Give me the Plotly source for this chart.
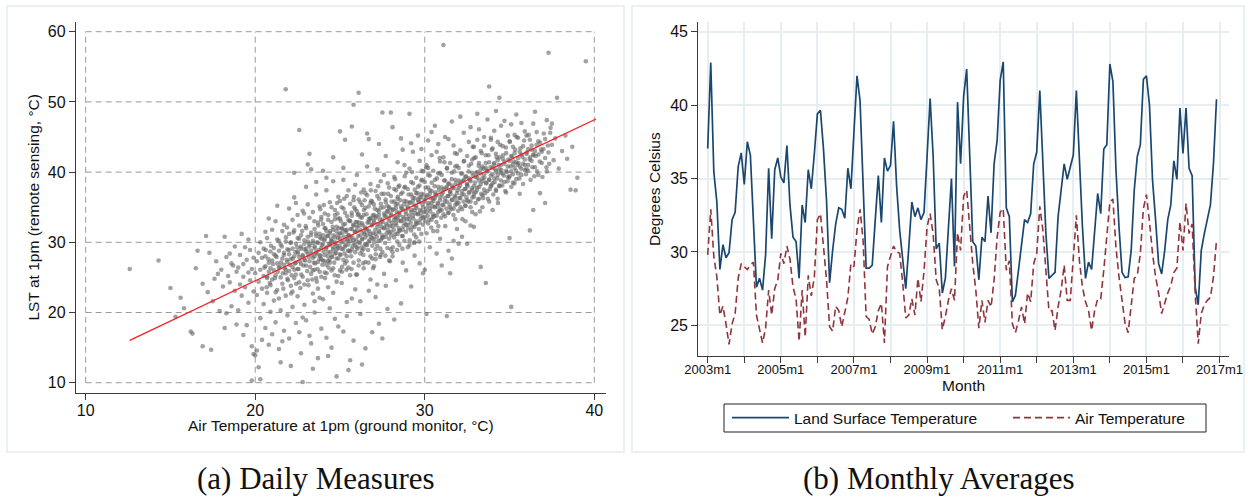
import plotly.graph_objects as go

W, H = 1248, 502

# ---------------- Panel (a): daily measures (air temp, LST) ----------------
pts_12_20 = [
    (12.6, 26.2), (14.3, 27.4), (15.0, 23.5), (15.3, 19.4), (15.6, 22.1), (15.8, 20.6), (16.2, 17.3), (16.3, 17.0),
    (16.5, 26.3), (16.6, 28.8), (16.9, 15.2), (16.9, 24.1),
    (17.1, 30.9), (17.3, 28.5), (17.4, 14.7), (17.5, 21.6), (17.6, 24.8), (17.8, 25.5), (17.9, 20.2), (17.7, 27.3), (17.2, 22.9),
    (18.0, 26.1), (18.1, 23.7), (18.2, 30.8), (18.3, 27.9), (18.4, 25.2), (18.5, 24.3), (18.5, 28.4), (18.6, 20.9),
    (18.7, 26.7), (18.8, 23.1), (18.8, 29.4), (18.9, 18.3), (18.9, 25.8), (18.3, 19.9), (18.6, 27.0), (18.2, 17.8),
    (19.0, 26.4), (19.1, 24.0), (19.1, 28.2), (19.2, 22.4), (19.3, 26.9), (19.3, 25.1), (19.4, 29.3), (19.4, 23.6),
    (19.5, 27.5), (19.5, 18.2), (19.6, 25.7), (19.6, 21.4), (19.7, 28.9), (19.7, 24.6), (19.8, 15.2), (19.8, 26.2),
    (19.9, 27.8), (19.9, 23.0), (19.9, 14.1), (19.3, 16.8), (19.6, 30.4), (19.0, 20.3), (19.8, 10.3), (19.2, 31.2),
]
pts_20_24 = [
    (20.0, 25.6), (20.0, 13.9), (20.1, 27.3), (20.1, 22.5), (20.1, 14.6), (20.2, 28.5), (20.2, 24.4), (20.2, 12.2),
    (20.3, 26.1), (20.3, 30.0), (20.3, 19.2), (20.4, 27.8), (20.4, 23.4), (20.4, 16.1), (20.5, 25.2), (20.5, 29.1),
    (20.5, 21.2), (20.6, 26.6), (20.6, 28.0), (20.6, 17.8), (20.7, 24.9), (20.7, 30.6), (20.7, 22.8), (20.8, 27.1),
    (20.8, 25.8), (20.8, 15.4), (20.9, 28.7), (20.9, 23.9), (20.9, 26.3), (20.9, 20.1), (20.6, 31.5), (20.3, 10.5), (20.8, 33.4),
    (21.0, 27.4), (21.0, 24.7), (21.0, 16.9), (21.1, 29.2), (21.1, 26.0), (21.1, 21.7), (21.2, 28.1), (21.2, 25.3),
    (21.2, 18.6), (21.3, 27.0), (21.3, 30.4), (21.3, 23.2), (21.4, 28.8), (21.4, 26.4), (21.4, 14.8), (21.5, 25.0),
    (21.5, 29.7), (21.5, 20.3), (21.6, 27.7), (21.6, 24.1), (21.6, 31.6), (21.7, 26.8), (21.7, 28.5), (21.7, 17.4),
    (21.8, 25.6), (21.8, 30.1), (21.8, 51.8), (21.8, 22.4), (21.9, 27.2), (21.9, 29.0), (21.9, 24.8), (21.9, 19.6),
    (21.2, 33.0), (21.5, 12.9), (21.7, 32.5), (21.3, 35.2), (21.6, 15.9), (21.0, 31.8), (21.4, 22.0), (21.8, 26.1),
    (22.0, 28.3), (22.0, 25.9), (22.0, 31.2), (22.0, 16.3), (22.1, 27.6), (22.1, 30.0), (22.1, 23.8), (22.1, 12.4),
    (22.2, 29.1), (22.2, 26.5), (22.2, 20.8), (22.2, 33.2), (22.3, 28.0), (22.3, 24.9), (22.3, 39.9), (22.3, 31.7),
    (22.4, 27.1), (22.4, 29.8), (22.4, 18.5), (22.4, 25.4), (22.5, 28.7), (22.5, 30.6), (22.5, 22.3), (22.5, 26.2),
    (22.6, 27.9), (22.6, 46.0), (22.6, 32.4), (22.6, 24.3), (22.7, 29.4), (22.7, 26.9), (22.7, 14.2), (22.7, 31.0),
    (22.8, 28.2), (22.8, 10.1), (22.8, 25.1), (22.8, 34.5), (22.9, 27.5), (22.9, 30.3), (22.9, 21.1), (22.9, 29.0),
    (22.3, 36.4), (22.6, 17.2), (22.0, 34.8), (22.4, 35.6), (22.8, 19.3), (22.2, 23.0), (22.5, 33.9), (22.9, 24.0),
    (23.0, 29.1), (23.0, 26.7), (23.0, 32.0), (23.0, 18.9), (23.1, 28.4), (23.1, 30.8), (23.1, 41.1), (23.1, 24.6),
    (23.2, 29.7), (23.2, 42.6), (23.2, 27.3), (23.2, 33.5), (23.3, 28.8), (23.3, 25.5), (23.3, 31.4), (23.3, 15.6),
    (23.4, 30.2), (23.4, 27.8), (23.4, 22.7), (23.4, 34.3), (23.5, 29.4), (23.5, 26.1), (23.5, 31.9), (23.5, 20.0),
    (23.6, 28.6), (23.6, 30.9), (23.6, 24.9), (23.6, 36.8), (23.7, 29.9), (23.7, 27.2), (23.7, 32.8), (23.7, 13.5),
    (23.8, 28.1), (23.8, 31.2), (23.8, 25.8), (23.8, 35.1), (23.9, 30.5), (23.9, 27.6), (23.9, 29.2), (23.9, 17.7),
    (23.0, 37.9), (23.3, 40.4), (23.5, 21.6), (23.7, 23.4), (23.9, 33.6), (23.2, 16.7), (23.6, 38.6), (23.4, 12.0),
    (23.8, 22.1), (23.1, 35.4), (23.5, 28.0), (23.9, 25.1),
]
pts_24_28 = [
    (24.0, 29.8), (24.0, 27.4), (24.0, 32.6), (24.0, 21.9), (24.1, 30.5), (24.1, 28.2), (24.1, 34.1), (24.1, 25.7),
    (24.2, 29.3), (24.2, 31.6), (24.2, 26.8), (24.2, 16.4), (24.3, 30.9), (24.3, 28.6), (24.3, 33.2), (24.3, 23.6),
    (24.4, 29.6), (24.4, 27.1), (24.4, 35.7), (24.4, 31.3), (24.5, 30.2), (24.5, 28.0), (24.5, 15.0), (24.5, 32.9),
    (24.6, 29.0), (24.6, 31.8), (24.6, 26.3), (24.6, 38.7), (24.7, 30.7), (24.7, 28.4), (24.7, 34.6), (24.7, 19.1),
    (24.8, 29.5), (24.8, 32.2), (24.8, 10.9), (24.8, 27.7), (24.9, 31.1), (24.9, 29.2), (24.9, 25.2), (24.9, 36.5),
    (24.0, 40.2), (24.2, 37.4), (24.4, 20.6), (24.6, 22.8), (24.8, 24.4), (24.3, 13.8), (24.5, 26.0), (24.7, 33.9),
    (24.9, 18.0), (24.1, 32.0), (24.3, 27.3), (24.5, 35.0), (24.7, 30.0), (24.9, 33.4), (24.6, 42.1), (24.2, 39.2),
    (25.0, 30.6), (25.0, 28.3), (25.0, 33.4), (25.0, 45.8), (25.1, 31.3), (25.1, 29.1), (25.1, 35.0), (25.1, 24.2),
    (25.2, 30.1), (25.2, 32.5), (25.2, 27.5), (25.2, 17.3), (25.3, 31.7), (25.3, 29.4), (25.3, 44.6), (25.3, 34.2),
    (25.4, 30.4), (25.4, 28.0), (25.4, 36.6), (25.4, 21.5), (25.5, 31.0), (25.5, 33.1), (25.5, 26.4), (25.5, 29.7),
    (25.6, 30.8), (25.6, 28.7), (25.6, 13.2), (25.6, 35.5), (25.7, 31.9), (25.7, 46.5), (25.7, 29.0), (25.7, 33.8),
    (25.8, 30.3), (25.8, 49.6), (25.8, 27.1), (25.8, 32.4), (25.9, 31.5), (25.9, 29.6), (25.9, 38.2), (25.9, 23.3),
    (25.0, 26.0), (25.2, 38.9), (25.4, 19.5), (25.6, 25.3), (25.8, 16.0), (25.1, 32.0), (25.3, 27.0), (25.5, 37.4),
    (25.7, 22.0), (25.9, 34.7), (25.4, 31.8), (25.6, 33.0), (25.0, 35.9), (25.2, 40.6), (25.8, 36.0), (25.5, 11.8),
    (26.0, 31.6), (26.0, 29.3), (26.0, 34.4), (26.0, 25.4), (26.1, 51.3), (26.1, 32.3), (26.1, 30.0), (26.1, 36.1),
    (26.2, 31.0), (26.2, 33.6), (26.2, 28.4), (26.2, 19.8), (26.3, 32.7), (26.3, 30.4), (26.3, 35.3), (26.3, 12.6),
    (26.4, 31.4), (26.4, 29.1), (26.4, 37.5), (26.4, 33.9), (26.5, 32.1), (26.5, 30.7), (26.5, 27.2), (26.5, 34.9),
    (26.6, 45.5), (26.6, 31.8), (26.6, 29.6), (26.6, 36.7), (26.7, 44.7), (26.7, 32.9), (26.7, 30.1), (26.7, 23.1),
    (26.8, 31.2), (26.8, 33.4), (26.8, 28.0), (26.8, 38.3), (26.9, 32.5), (26.9, 30.6), (26.9, 35.8), (26.9, 17.2),
    (26.0, 39.6), (26.2, 21.6), (26.4, 26.3), (26.6, 40.8), (26.8, 24.7), (26.1, 34.0), (26.3, 28.8), (26.5, 37.0),
    (26.7, 33.3), (26.9, 27.7), (26.3, 42.5), (26.5, 14.9), (26.0, 32.9), (26.8, 35.6),
    (27.0, 32.8), (27.0, 30.5), (27.0, 35.4), (27.0, 26.6), (27.1, 33.5), (27.1, 31.2), (27.1, 37.3), (27.1, 22.2),
    (27.2, 32.2), (27.2, 34.6), (27.2, 29.5), (27.2, 40.4), (27.3, 33.9), (27.3, 31.6), (27.3, 36.2), (27.3, 18.4),
    (27.4, 32.6), (27.4, 30.3), (27.4, 38.7), (27.4, 34.9), (27.5, 48.5), (27.5, 33.2), (27.5, 31.0), (27.5, 28.6),
    (27.6, 34.1), (27.6, 32.0), (27.6, 36.9), (27.6, 25.5), (27.7, 33.7), (27.7, 30.8), (27.7, 35.7), (27.7, 42.3),
    (27.8, 32.4), (27.8, 34.4), (27.8, 29.2), (27.8, 20.5), (27.9, 33.0), (27.9, 31.4), (27.9, 37.8), (27.9, 27.4),
    (27.2, 24.0), (27.4, 28.2), (27.6, 39.6), (27.8, 35.2), (27.0, 33.9), (27.3, 44.0), (27.5, 16.3), (27.7, 23.8),
    (27.9, 35.0), (27.1, 29.0),
]
pts_28_32 = [
    (28.0, 48.5), (28.0, 33.8), (28.0, 31.5), (28.0, 36.6), (28.1, 46.4), (28.1, 34.6), (28.1, 32.3), (28.1, 28.0),
    (28.2, 33.2), (28.2, 35.8), (28.2, 30.7), (28.2, 39.3), (28.3, 34.9), (28.3, 32.7), (28.3, 37.4), (28.3, 24.6),
    (28.4, 33.6), (28.4, 31.2), (28.4, 41.4), (28.4, 35.5), (28.5, 34.2), (28.5, 32.0), (28.5, 29.6), (28.5, 38.1),
    (28.6, 35.1), (28.6, 33.0), (28.6, 21.3), (28.6, 36.9), (28.7, 34.7), (28.7, 31.8), (28.7, 43.2), (28.7, 27.1),
    (28.8, 33.4), (28.8, 35.9), (28.8, 30.2), (28.8, 37.8), (28.9, 34.0), (28.9, 32.5), (28.9, 39.9), (28.9, 26.0),
    (28.2, 19.0), (28.6, 44.8), (28.0, 29.0), (28.4, 36.2), (28.8, 41.0), (28.3, 33.4), (28.7, 30.9),
    (29.0, 34.8), (29.0, 32.5), (29.0, 37.6), (29.0, 29.3), (29.1, 48.3), (29.1, 35.6), (29.1, 33.3), (29.1, 40.5),
    (29.2, 34.3), (29.2, 36.8), (29.2, 31.7), (29.2, 23.7), (29.3, 35.9), (29.3, 33.8), (29.3, 38.4), (29.3, 42.9),
    (29.4, 34.6), (29.4, 32.2), (29.4, 36.3), (29.4, 28.1), (29.5, 35.2), (29.5, 33.0), (29.5, 39.2), (29.5, 30.7),
    (29.6, 36.1), (29.6, 34.0), (29.6, 37.9), (29.6, 45.2), (29.7, 35.7), (29.7, 32.8), (29.7, 41.6), (29.7, 27.0),
    (29.8, 34.4), (29.8, 36.9), (29.8, 31.2), (29.8, 38.8), (29.9, 35.0), (29.9, 33.5), (29.9, 40.1), (29.9, 25.6),
    (29.2, 44.1), (29.5, 37.0), (29.8, 43.3), (29.4, 30.0), (29.7, 36.4),
    (30.0, 35.8), (30.0, 33.6), (30.0, 38.6), (30.0, 26.1), (30.1, 36.5), (30.1, 34.3), (30.1, 41.0), (30.1, 19.8),
    (30.2, 35.3), (30.2, 37.8), (30.2, 32.7), (30.2, 44.5), (30.3, 36.9), (30.3, 34.8), (30.3, 39.5), (30.3, 29.3),
    (30.4, 35.6), (30.4, 33.2), (30.4, 37.3), (30.4, 42.4), (30.5, 36.2), (30.5, 34.0), (30.5, 40.2), (30.5, 31.6),
    (30.6, 37.1), (30.6, 35.0), (30.6, 38.9), (30.6, 46.6), (30.7, 36.7), (30.7, 33.8), (30.7, 42.9), (30.7, 28.4),
    (30.8, 35.4), (30.8, 37.9), (30.8, 32.3), (30.8, 39.8), (30.9, 36.0), (30.9, 34.5), (30.9, 41.5), (30.9, 30.5),
    (30.4, 45.7), (30.8, 44.0), (30.2, 40.6), (30.6, 36.3),
    (31.0, 36.8), (31.0, 34.6), (31.0, 39.6), (31.0, 26.7), (31.1, 58.1), (31.1, 37.5), (31.1, 35.3), (31.1, 42.1),
    (31.2, 36.3), (31.2, 38.8), (31.2, 33.7), (31.2, 45.0), (31.3, 37.9), (31.3, 35.8), (31.3, 40.5), (31.3, 19.5),
    (31.4, 36.6), (31.4, 34.2), (31.4, 38.3), (31.4, 28.8), (31.5, 37.2), (31.5, 35.0), (31.5, 41.3), (31.5, 25.6),
    (31.6, 38.1), (31.6, 36.0), (31.6, 39.9), (31.6, 47.2), (31.7, 37.7), (31.7, 34.8), (31.7, 43.8), (31.7, 30.2),
    (31.8, 36.4), (31.8, 38.9), (31.8, 33.3), (31.8, 40.8), (31.9, 37.0), (31.9, 35.5), (31.9, 42.6), (31.9, 31.9),
    (31.4, 44.7), (31.6, 27.7),
]
pts_32_40 = [
    (32.0, 37.8), (32.0, 35.6), (32.0, 40.6), (32.0, 29.8), (32.1, 38.5), (32.1, 36.3), (32.1, 43.1), (32.1, 47.9),
    (32.2, 37.3), (32.2, 39.8), (32.2, 34.7), (32.2, 30.8), (32.3, 38.9), (32.3, 36.8), (32.3, 41.5), (32.3, 45.6),
    (32.4, 37.6), (32.4, 35.2), (32.4, 39.3), (32.4, 33.0), (32.5, 38.2), (32.5, 36.0), (32.5, 42.3), (32.5, 29.8),
    (32.6, 39.1), (32.6, 37.0), (32.6, 40.9), (32.6, 44.3), (32.7, 38.7), (32.7, 35.8), (32.7, 46.4), (32.7, 32.4),
    (32.8, 37.4), (32.8, 39.9), (32.8, 34.3), (32.8, 41.8), (32.9, 38.0), (32.9, 36.5), (32.9, 43.6), (32.9, 32.2),
    (33.0, 39.3), (33.0, 37.1), (33.0, 42.1), (33.0, 34.0), (33.1, 40.0), (33.1, 37.8), (33.1, 44.6), (33.1, 48.3),
    (33.2, 38.8), (33.2, 41.3), (33.2, 36.2), (33.2, 46.1), (33.3, 40.4), (33.3, 38.3), (33.3, 43.0), (33.3, 26.5),
    (33.4, 39.1), (33.4, 36.7), (33.4, 40.8), (33.4, 35.0), (33.5, 39.7), (33.5, 37.5), (33.5, 43.8), (33.5, 45.0),
    (33.6, 40.6), (33.6, 38.5), (33.6, 42.4), (33.6, 24.2), (33.7, 40.2), (33.7, 37.3), (33.7, 47.5), (33.8, 52.2),
    (33.8, 38.9), (33.8, 41.4), (33.8, 35.8), (33.9, 39.5), (33.9, 38.0), (33.9, 44.9),
    (34.0, 40.6), (34.0, 38.4), (34.0, 43.4), (34.0, 34.6), (34.1, 41.3), (34.1, 39.1), (34.1, 45.9), (34.2, 40.1),
    (34.2, 42.6), (34.2, 37.5), (34.2, 48.7), (34.3, 41.7), (34.3, 39.6), (34.3, 44.3), (34.4, 50.6), (34.4, 40.4),
    (34.4, 38.0), (34.4, 42.1), (34.5, 41.0), (34.5, 38.8), (34.5, 46.6), (34.6, 41.9), (34.6, 39.8), (34.6, 43.7),
    (34.7, 41.5), (34.7, 38.6), (34.7, 47.3), (34.8, 40.2), (34.8, 42.7), (34.8, 37.1), (34.9, 40.8), (34.9, 39.3),
    (34.9, 45.2), (34.3, 36.2),
    (35.0, 41.6), (35.0, 39.4), (35.0, 44.4), (35.0, 30.6), (35.1, 42.3), (35.1, 40.1), (35.1, 20.8), (35.1, 46.8),
    (35.2, 41.1), (35.2, 43.6), (35.2, 38.5), (35.3, 42.7), (35.3, 40.6), (35.3, 45.3), (35.4, 41.4), (35.4, 39.0),
    (35.4, 48.2), (35.5, 42.0), (35.5, 39.8), (35.5, 44.9), (35.6, 42.9), (35.6, 40.8), (35.6, 36.9), (35.7, 42.5),
    (35.7, 39.6), (35.7, 47.0), (35.8, 41.2), (35.8, 43.7), (35.9, 41.8), (35.9, 40.3), (35.9, 45.8),
    (36.0, 42.6), (36.0, 40.4), (36.0, 45.2), (36.1, 43.3), (36.1, 41.0), (36.2, 42.1), (36.2, 44.6), (36.2, 31.7),
    (36.3, 43.8), (36.3, 41.6), (36.4, 42.4), (36.4, 34.6), (36.4, 46.9), (36.5, 43.0), (36.5, 40.7), (36.6, 43.9),
    (36.6, 45.7), (36.7, 42.5), (36.7, 39.6), (36.8, 37.0), (36.8, 44.2), (36.9, 42.9), (36.9, 41.3), (36.5, 48.6),
    (37.0, 43.3), (37.1, 35.6), (37.1, 44.7), (37.2, 40.1), (37.3, 57.0), (37.3, 42.8), (37.4, 45.6), (37.5, 43.9),
    (37.6, 41.7), (37.7, 44.8), (37.8, 50.6), (37.9, 40.5), (37.5, 46.9), (37.2, 47.4),
    (38.1, 43.0), (38.3, 45.2), (38.6, 37.5), (38.7, 43.6), (38.9, 37.4), (39.0, 39.2), (38.4, 41.9), (39.5, 55.8),
]
# extra points of the dense central band
pts_core_a = [
    (20.55, 26.4), (20.62, 28.9), (20.71, 25.1), (20.78, 27.6), (20.86, 24.2), (20.93, 29.5), (21.04, 26.9), (21.11, 28.3),
    (21.17, 24.9), (21.26, 27.9), (21.33, 25.8), (21.39, 30.2), (21.45, 26.5), (20.67, 23.6), (21.21, 22.9),
    (21.52, 27.1), (21.57, 29.4), (21.63, 25.6), (21.69, 28.2), (21.74, 26.3), (21.81, 30.7), (21.86, 27.5), (21.93, 24.6),
    (21.98, 28.9), (22.04, 26.8), (22.09, 29.9), (22.15, 25.3), (22.21, 27.7), (22.26, 31.4), (22.31, 26.1), (22.37, 28.6),
    (22.42, 24.1), (22.47, 29.3), (21.66, 23.4), (22.12, 22.7), (21.88, 32.1), (22.34, 27.0),
    (22.52, 28.4), (22.55, 26.2), (22.59, 30.5), (22.63, 27.3), (22.68, 29.1), (22.72, 25.4), (22.77, 31.6), (22.81, 28.0),
    (22.85, 26.7), (22.90, 29.8), (22.94, 27.4), (22.98, 32.3), (23.03, 28.7), (23.07, 25.9), (23.11, 30.1), (23.16, 27.9),
    (23.20, 29.4), (23.24, 26.5), (23.29, 31.0), (23.33, 28.3), (23.37, 24.7), (23.42, 29.9), (23.46, 27.1), (23.49, 33.0),
    (22.66, 23.5), (23.14, 23.9), (22.88, 34.1), (23.39, 26.0),
    (23.51, 29.2), (23.54, 27.0), (23.58, 31.3), (23.61, 28.4), (23.65, 30.0), (23.68, 26.2), (23.72, 32.4), (23.75, 28.9),
    (23.79, 27.6), (23.82, 30.7), (23.86, 28.1), (23.89, 33.2), (23.93, 29.6), (23.96, 26.8), (24.00, 31.0), (24.03, 28.7),
    (24.07, 30.3), (24.10, 27.3), (24.14, 32.0), (24.17, 29.1), (24.21, 25.6), (24.24, 30.9), (24.28, 28.0), (24.31, 33.9),
    (24.35, 29.8), (24.38, 27.5), (24.42, 31.6), (24.45, 28.6), (24.48, 30.5), (23.63, 24.4), (24.12, 24.9), (23.84, 34.7),
    (24.33, 26.4), (24.05, 35.3),
    (24.51, 30.1), (24.54, 27.9), (24.57, 32.2), (24.60, 29.3), (24.63, 31.0), (24.66, 27.1), (24.70, 33.3), (24.73, 29.8),
    (24.76, 28.5), (24.79, 31.6), (24.82, 29.0), (24.85, 34.1), (24.88, 30.6), (24.91, 27.7), (24.94, 32.0), (24.97, 29.5),
    (25.00, 31.3), (25.03, 28.2), (25.06, 33.0), (25.09, 30.0), (25.12, 26.5), (25.15, 31.9), (25.18, 29.0), (25.21, 34.8),
    (25.24, 30.8), (25.27, 28.4), (25.30, 32.6), (25.33, 29.6), (25.36, 31.5), (25.39, 27.3), (25.42, 33.7), (25.45, 30.3),
    (25.48, 28.8), (24.69, 25.3), (25.11, 25.8), (24.83, 35.6), (25.25, 36.2), (25.38, 26.1),
]
pts_core_b = [
    (25.51, 31.0), (25.54, 28.8), (25.57, 33.1), (25.60, 30.2), (25.63, 31.9), (25.66, 28.0), (25.69, 34.2), (25.72, 30.7),
    (25.75, 29.4), (25.78, 32.5), (25.81, 29.9), (25.84, 35.0), (25.87, 31.5), (25.90, 28.6), (25.93, 32.9), (25.96, 30.4),
    (25.99, 32.2), (26.02, 29.1), (26.05, 33.9), (26.08, 30.9), (26.11, 27.4), (26.14, 32.8), (26.17, 29.9), (26.20, 35.7),
    (26.23, 31.7), (26.26, 29.3), (26.29, 33.5), (26.32, 30.5), (26.35, 32.4), (26.38, 28.2), (26.41, 34.6), (26.44, 31.2),
    (26.47, 29.7), (25.68, 26.2), (26.10, 26.7), (25.82, 36.5), (26.25, 37.1), (26.37, 27.0), (25.95, 25.4), (26.45, 36.0),
    (26.51, 31.9), (26.54, 29.7), (26.57, 34.0), (26.60, 31.1), (26.63, 32.8), (26.66, 28.9), (26.69, 35.1), (26.72, 31.6),
    (26.75, 30.3), (26.78, 33.4), (26.81, 30.8), (26.84, 35.9), (26.87, 32.4), (26.90, 29.5), (26.93, 33.8), (26.96, 31.3),
    (26.99, 33.1), (27.02, 30.0), (27.05, 34.8), (27.08, 31.8), (27.11, 28.3), (27.14, 33.7), (27.17, 30.8), (27.20, 36.6),
    (27.23, 32.6), (27.26, 30.2), (27.29, 34.4), (27.32, 31.4), (27.35, 33.3), (27.38, 29.1), (27.41, 35.5), (27.44, 32.1),
    (27.47, 30.6), (26.68, 27.1), (27.10, 27.6), (26.82, 37.4), (27.25, 38.0), (27.37, 27.9), (26.95, 26.3), (27.45, 36.9),
    (27.51, 32.9), (27.54, 30.7), (27.57, 35.0), (27.60, 32.1), (27.63, 33.8), (27.66, 29.9), (27.69, 36.1), (27.72, 32.6),
    (27.75, 31.3), (27.78, 34.4), (27.81, 31.8), (27.84, 36.9), (27.87, 33.4), (27.90, 30.5), (27.93, 34.8), (27.96, 32.3),
    (27.99, 34.1), (28.02, 31.0), (28.05, 35.8), (28.08, 32.8), (28.11, 29.3), (28.14, 34.7), (28.17, 31.8), (28.20, 37.6),
    (28.23, 33.6), (28.26, 31.2), (28.29, 35.4), (28.32, 32.4), (28.35, 34.3), (28.38, 30.1), (28.41, 36.5), (28.44, 33.1),
    (28.47, 31.6), (27.68, 28.1), (28.10, 28.6), (27.82, 38.4), (28.25, 39.0), (28.37, 28.9), (27.95, 27.3), (28.45, 37.9),
    (28.51, 33.9), (28.54, 31.7), (28.57, 36.0), (28.60, 33.1), (28.63, 34.8), (28.66, 30.9), (28.69, 37.1), (28.72, 33.6),
    (28.75, 32.3), (28.78, 35.4), (28.81, 32.8), (28.84, 37.9), (28.87, 34.4), (28.90, 31.5), (28.93, 35.8), (28.96, 33.3),
    (28.99, 35.1), (29.02, 32.0), (29.05, 36.8), (29.08, 33.8), (29.11, 30.3), (29.14, 35.7), (29.17, 32.8), (29.20, 38.6),
    (29.23, 34.6), (29.26, 32.2), (29.29, 36.4), (29.32, 33.4), (29.35, 35.3), (29.38, 31.1), (29.41, 37.5), (29.44, 34.1),
    (29.47, 32.6), (28.68, 29.1), (29.10, 29.6), (28.82, 39.4), (29.25, 40.0), (29.37, 29.9),
]
pts_core_c = [
    (29.51, 34.9), (29.54, 32.7), (29.57, 37.0), (29.60, 34.1), (29.63, 35.8), (29.66, 31.9), (29.69, 38.1), (29.72, 34.6),
    (29.75, 33.3), (29.78, 36.4), (29.81, 33.8), (29.84, 38.9), (29.87, 35.4), (29.90, 32.5), (29.93, 36.8), (29.96, 34.3),
    (29.99, 36.1), (30.02, 33.0), (30.05, 37.8), (30.08, 34.8), (30.11, 31.3), (30.14, 36.7), (30.17, 33.8), (30.20, 39.6),
    (30.23, 35.6), (30.26, 33.2), (30.29, 37.4), (30.32, 34.4), (30.35, 36.3), (30.38, 32.1), (30.41, 38.5), (30.44, 35.1),
    (30.47, 33.6), (29.68, 30.1), (30.10, 40.7), (29.82, 40.2),
    (30.51, 35.9), (30.55, 33.7), (30.58, 38.0), (30.62, 35.1), (30.65, 36.8), (30.69, 32.9), (30.72, 39.1), (30.76, 35.6),
    (30.79, 34.3), (30.83, 37.4), (30.86, 34.8), (30.90, 39.9), (30.93, 36.4), (30.97, 33.5), (31.00, 37.8), (31.04, 35.3),
    (31.07, 37.1), (31.11, 34.0), (31.14, 38.8), (31.18, 35.8), (31.21, 32.3), (31.25, 37.7), (31.28, 34.8), (31.32, 40.6),
    (31.35, 36.6), (31.39, 34.2), (31.42, 38.4), (31.46, 35.4), (31.49, 37.3), (30.74, 31.6), (31.16, 41.4), (30.88, 42.0),
    (31.52, 36.9), (31.55, 34.7), (31.59, 39.0), (31.62, 36.1), (31.66, 37.8), (31.69, 33.9), (31.73, 40.1), (31.76, 36.6),
    (31.80, 35.3), (31.83, 38.4), (31.87, 35.8), (31.90, 40.9), (31.94, 37.4), (31.97, 34.5), (32.01, 38.8), (32.04, 36.3),
    (32.08, 38.1), (32.11, 35.0), (32.15, 39.8), (32.18, 36.8), (32.22, 33.3), (32.25, 38.7), (32.29, 35.8), (32.32, 41.6),
    (32.36, 37.6), (32.39, 35.2), (32.43, 39.4), (32.46, 36.4), (32.49, 38.3), (31.78, 42.7),
    (32.52, 38.0), (32.56, 35.8), (32.59, 40.1), (32.63, 37.2), (32.67, 38.9), (32.70, 35.0), (32.74, 41.2), (32.78, 37.7),
    (32.81, 36.4), (32.85, 39.5), (32.89, 36.9), (32.92, 42.0), (32.96, 38.5), (33.00, 35.6), (33.03, 39.9), (33.07, 37.4),
    (33.11, 39.2), (33.14, 36.1), (33.18, 40.9), (33.22, 37.9), (33.25, 34.4), (33.29, 39.8), (33.33, 36.9), (33.36, 42.7),
    (33.40, 38.7), (33.44, 36.3), (33.47, 40.5), (32.83, 43.6),
    (33.52, 39.2), (33.56, 37.0), (33.60, 41.3), (33.64, 38.4), (33.68, 40.1), (33.72, 36.2), (33.76, 42.4), (33.80, 38.9),
    (33.84, 37.6), (33.88, 40.7), (33.92, 38.1), (33.96, 43.2), (34.00, 39.7), (34.04, 36.8), (34.08, 41.1), (34.12, 38.6),
    (34.16, 40.4), (34.20, 37.3), (34.24, 42.1), (34.28, 39.1), (34.32, 35.6), (34.36, 41.0), (34.40, 38.1), (34.44, 43.9),
    (34.48, 39.9), (33.90, 44.6),
    (34.52, 40.3), (34.57, 38.1), (34.61, 42.4), (34.66, 39.5), (34.70, 41.2), (34.75, 37.3), (34.79, 43.5), (34.84, 40.0),
    (34.88, 38.7), (34.93, 41.8), (34.97, 39.2), (35.02, 44.3), (35.06, 40.8), (35.11, 37.9), (35.15, 42.2), (35.20, 39.7),
    (35.24, 41.5), (35.29, 38.4), (35.33, 43.2), (35.38, 40.2), (35.42, 45.0), (35.47, 41.1),
    (35.53, 41.3), (35.58, 39.1), (35.64, 43.4), (35.69, 40.5), (35.75, 42.2), (35.80, 38.3), (35.86, 44.5), (35.91, 41.0),
    (35.97, 39.7), (36.02, 42.8), (36.08, 40.2), (36.13, 45.3), (36.19, 41.8), (36.24, 38.9), (36.30, 43.2), (36.35, 40.7),
    (36.41, 42.5), (36.46, 39.4),
    (36.54, 42.3), (36.62, 40.1), (36.70, 44.4), (36.78, 41.5), (36.86, 43.2), (36.94, 39.3), (37.02, 45.5), (37.10, 42.0),
    (37.18, 40.7), (37.26, 43.8), (37.34, 41.2), (37.42, 46.3),
]
fit_x = [12.6, 40.1]          # linear fit, endpoints
fit_y = [16.04, 47.56]

# ---------------- Panel (b): monthly averages 2003m1 - 2016m12 ----------------
lst_monthly = [
    37.05, 42.9, 35.45, 33.4, 28.8, 30.5, 29.6, 29.95, 32.2, 32.7, 35.8, 36.75,     # 2003
    34.6, 37.5, 36.6, 32.0, 27.6, 28.2, 27.4, 29.8, 35.7, 30.9, 35.6, 36.4,         # 2004
    35.1, 34.7, 37.25, 33.2, 31.0, 30.7, 28.2, 33.2, 32.0, 35.6, 34.3, 36.7,        # 2005
    39.4, 39.65, 37.0, 33.5, 27.9, 30.1, 31.9, 33.0, 32.9, 32.3, 35.7, 34.3,        # 2006
    38.3, 42.0, 40.3, 35.0, 28.9, 28.9, 29.1, 32.2, 35.2, 32.0, 36.4, 35.5,         # 2007
    35.9, 38.9, 34.5, 31.5, 29.3, 27.5, 30.3, 33.4, 32.4, 33.0, 32.2, 32.7,         # 2008
    36.5, 40.45, 36.5, 30.2, 30.6, 27.2, 28.2, 31.7, 35.0, 29.0, 40.2, 36.0,        # 2009
    40.6, 42.45, 36.7, 30.7, 30.4, 28.1, 31.0, 30.7, 33.8, 31.3, 36.0, 37.6,        # 2010
    41.7, 42.95, 33.0, 32.4, 26.6, 27.05, 28.75, 30.6, 32.2, 32.0, 32.6, 36.0,      # 2011
    36.8, 41.0, 36.0, 31.25, 28.2, 28.4, 28.6, 32.4, 34.4, 36.0, 34.95, 35.8,       # 2012
    36.6, 41.0, 36.25, 31.7, 28.2, 29.3, 28.8, 31.7, 33.98, 32.6, 37.0, 37.3,       # 2013
    42.8, 41.6, 35.6, 31.7, 28.6, 28.25, 28.3, 30.1, 34.2, 36.5, 37.3, 41.75,       # 2014
    42.0, 40.0, 34.9, 32.2, 29.2, 28.5, 30.1, 32.2, 33.2, 36.2, 34.95, 39.8,        # 2015
    36.7, 39.8, 35.7, 35.2, 27.6, 26.4, 30.1, 31.25, 32.2, 33.2, 36.0, 40.4,        # 2016
]
air_monthly = [
    29.8, 32.9, 29.7, 28.3, 25.7, 26.3, 25.1, 23.7, 25.1, 25.8, 28.2, 29.2,         # 2003
    29.0, 28.8, 29.1, 29.3, 25.7, 24.7, 23.8, 24.8, 27.4, 25.7, 27.5, 28.1,         # 2004
    29.9, 29.2, 30.4, 29.5, 27.6, 26.8, 23.9, 27.4, 24.2, 28.4, 27.0, 28.3,         # 2005
    32.2, 32.6, 30.4, 28.1, 24.9, 24.6, 26.3, 26.0, 24.9, 26.0, 26.9, 29.2,         # 2006
    29.0, 31.5, 32.9, 30.8, 25.6, 25.4, 24.4, 24.9, 26.0, 26.5, 23.8, 29.0,         # 2007
    29.7, 30.4, 30.0, 29.9, 27.9, 25.5, 25.7, 26.8, 25.7, 28.2, 26.6, 28.7,         # 2008
    31.7, 32.6, 31.2, 28.1, 27.5, 24.7, 25.6, 26.7, 27.5, 26.7, 31.3, 30.1,         # 2009
    33.8, 34.2, 31.7, 29.2, 27.4, 24.8, 26.7, 25.2, 26.7, 26.25, 28.1, 31.0,        # 2010
    32.7, 32.95, 28.75, 29.4, 25.1, 24.5, 25.3, 26.25, 25.1, 27.2, 26.6, 29.2,      # 2011
    29.9, 33.1, 31.5, 28.5, 26.0, 26.0, 24.65, 26.25, 27.4, 29.1, 26.7, 26.7,       # 2012
    29.4, 32.5, 29.4, 27.6, 26.6, 26.0, 24.65, 26.0, 26.8, 26.8, 28.75, 31.25,      # 2013
    33.4, 33.6, 30.3, 28.3, 26.5, 25.1, 24.5, 26.25, 28.2, 28.4, 29.9, 32.95,       # 2014
    33.9, 32.05, 29.9, 28.3, 27.2, 25.8, 26.5, 27.2, 27.7, 28.6, 28.9, 32.05,       # 2015
    30.1, 33.3, 31.25, 31.9, 27.2, 23.75, 25.8, 26.4, 26.7, 26.9, 28.3, 30.8,       # 2016
]
start_year = 2003
tick_years = [2003, 2004, 2005, 2006, 2007, 2008, 2009, 2010, 2011, 2012, 2013, 2014, 2015, 2016, 2017]
labelled_years = [2003, 2005, 2007, 2009, 2011, 2013, 2015, 2017]

# ---------------- helpers ----------------
def fx(px):
    return px / W


def fy(py):
    return 1 - py / H


FONT = "Liberation Sans, Arial, sans-serif"
SERIF = "Liberation Serif, Times New Roman, serif"
AXIS_COL = "#3a3a3a"

daily = pts_12_20 + pts_20_24 + pts_24_28 + pts_28_32 + pts_32_40 + pts_core_a + pts_core_b + pts_core_c
air_daily = [p[0] for p in daily]
lst_daily = [p[1] for p in daily]

month_idx = list(range(len(lst_monthly)))   # 0 = 2003m1
tickvals_b = [(y - start_year) * 12 for y in tick_years]
ticktext_b = [f"{y}m1" if y in labelled_years else "" for y in tick_years]

fig = go.Figure()

fig.add_trace(go.Scatter(
    x=air_daily, y=lst_daily, mode="markers", xaxis="x", yaxis="y",
    marker=dict(size=4.6, color="rgba(100,100,100,0.6)", line=dict(width=0)),
    showlegend=False, hoverinfo="skip"))
fig.add_trace(go.Scatter(
    x=fit_x, y=fit_y, mode="lines", xaxis="x", yaxis="y",
    line=dict(color="#ff1a1a", width=1.3), showlegend=False, hoverinfo="skip"))

fig.add_trace(go.Scatter(
    x=month_idx, y=lst_monthly, mode="lines", xaxis="x2", yaxis="y2",
    name="Land Surface Temperature", legend="legend",
    line=dict(color="#1a476f", width=1.7)))
fig.add_trace(go.Scatter(
    x=month_idx, y=air_monthly, mode="lines", xaxis="x2", yaxis="y2",
    name="Air Temperature", legend="legend2",
    line=dict(color="#90353b", width=1.6, dash="7px,4px")))

axis_common = dict(showline=True, linecolor=AXIS_COL, linewidth=1.3, ticks="outside",
                   ticklen=6, tickwidth=1.2, tickcolor=AXIS_COL, zeroline=False,
                   automargin=False, fixedrange=True)
big_ticks = dict(family=FONT, size=16, color="#111")
small_ticks = dict(family=FONT, size=13, color="#111")

# panel (a) axes
a_x_ticks = [10, 20, 30, 40]
a_y_ticks = [10, 20, 30, 40, 50, 60]
fig.update_layout(
    template="none",
    xaxis=dict(domain=[fx(76), fx(606)], anchor="y", range=[9.43, 40.69],
               tickvals=a_x_ticks, showgrid=False, tickfont=big_ticks, ticklabelstandoff=-3, **axis_common),
    yaxis=dict(domain=[fy(392.7), fy(22)], anchor="x", range=[8.58, 61.38],
               tickvals=a_y_ticks, showgrid=False, tickfont=big_ticks, **axis_common),
    xaxis2=dict(domain=[fx(698.3), fx(1229.3)], anchor="y2", range=[-3.09, 171.2],
                tickvals=tickvals_b, ticktext=ticktext_b, showgrid=True,
                gridcolor="#e7eef1", gridwidth=1.5, tickfont=small_ticks, ticklabelstandoff=-4, **axis_common),
    yaxis2=dict(domain=[fy(355.7), fy(22.3)], anchor="x2", range=[22.93, 45.64],
                tickvals=[25, 30, 35, 40, 45], showgrid=True,
                gridcolor="#e7eef1", gridwidth=1.5, tickfont=big_ticks, **axis_common),
)

shapes = []
# panel frames
for x0, x1 in [(7, 624), (632, 1244)]:
    shapes.append(dict(type="rect", xref="paper", yref="paper", x0=fx(x0), x1=fx(x1),
                       y0=fy(452), y1=fy(6), line=dict(color="#e4ecef", width=1.5),
                       fillcolor="rgba(0,0,0,0)", layer="below"))
# dashed grid for panel (a)
for xv in a_x_ticks:
    shapes.append(dict(type="line", xref="x", yref="y", x0=xv, x1=xv, y0=a_y_ticks[0], y1=a_y_ticks[-1],
                       line=dict(color="#9a9a9a", width=1, dash="6px,4px"), layer="below"))
for yv in a_y_ticks:
    shapes.append(dict(type="line", xref="x", yref="y", x0=a_x_ticks[0], x1=a_x_ticks[-1], y0=yv, y1=yv,
                       line=dict(color="#9a9a9a", width=1, dash="6px,4px"), layer="below"))
# legend box for panel (b)
shapes.append(dict(type="rect", xref="paper", yref="paper", x0=fx(724), x1=fx(1206),
                   y0=fy(432), y1=fy(404), line=dict(color="#222", width=1),
                   fillcolor="rgba(0,0,0,0)"))

annotations = [
    dict(text="Air Temperature at 1pm (ground monitor, °C)", x=fx(341), y=fy(425), xref="paper", yref="paper",
         showarrow=False, font=dict(family=FONT, size=15.5, color="#111"), xanchor="center", yanchor="middle"),
    dict(text="LST at 1pm (remote sensing, °C)", x=fx(33), y=fy(207.5), xref="paper", yref="paper",
         showarrow=False, textangle=-90, font=dict(family=FONT, size=15.5, color="#111"),
         xanchor="center", yanchor="middle"),
    dict(text="Degrees Celsius", x=fx(654), y=fy(189), xref="paper", yref="paper",
         showarrow=False, textangle=-90, font=dict(family=FONT, size=15.5, color="#111"),
         xanchor="center", yanchor="middle"),
    dict(text="Month", x=fx(963.8), y=fy(385), xref="paper", yref="paper",
         showarrow=False, font=dict(family=FONT, size=15.5, color="#111"), xanchor="center", yanchor="middle"),
    dict(text="(a) Daily Measures", x=fx(315.5), y=fy(478), xref="paper", yref="paper",
         showarrow=False, font=dict(family=SERIF, size=31, color="#111"), xanchor="center", yanchor="middle"),
    dict(text="(b) Monthly Averages", x=fx(938), y=fy(478), xref="paper", yref="paper",
         showarrow=False, font=dict(family=SERIF, size=31, color="#111"), xanchor="center", yanchor="middle"),
]

legend_common = dict(orientation="h", yanchor="middle", y=fy(418), xanchor="left",
                     bgcolor="rgba(0,0,0,0)", borderwidth=0, itemwidth=57,
                     font=dict(family=FONT, size=15.5, color="#111"))

fig.update_layout(
    width=W, height=H, margin=dict(l=0, r=0, t=0, b=0, autoexpand=False),
    paper_bgcolor="white", plot_bgcolor="white",
    shapes=shapes, annotations=annotations,
    legend=dict(x=fx(727), **legend_common),
    legend2=dict(x=fx(1008), **legend_common),
    showlegend=True,
)

fig.write_html("out.html")
